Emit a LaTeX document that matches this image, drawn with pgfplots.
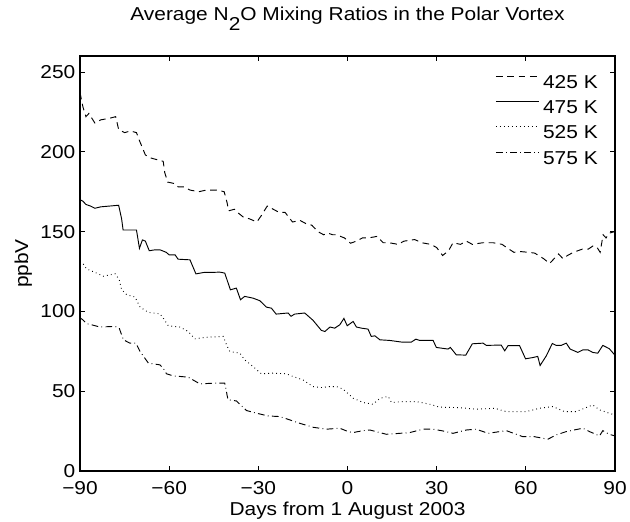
\documentclass[border=0pt]{standalone}
\usepackage{fontspec}
\setmainfont{Liberation Sans}[FakeStretch=1.12]
\usepackage{pgfplots}
\pgfplotsset{compat=1.18}
\begin{document}
\begin{tikzpicture}[font=\fontsize{14}{16}\selectfont]
\useasboundingbox (-60pt,-37.5pt) rectangle (412.5pt,353.25pt);
\begin{axis}[
  scale only axis,
  width=401.25pt, height=311.25pt,
  xmin=-90, xmax=90, ymin=0, ymax=260,
  xtick={-90,-60,-30,0,30,60,90},
  xticklabels={−90,−60,−30,0,30,60,90},
  xticklabel style={yshift=-4pt},
  ytick={0,50,100,150,200,250},
  /pgf/number format/assume math mode=true,
  tick align=inside,
  major tick length=4pt,
  axis line style={line width=0.9pt},
  every tick/.style={line width=0.6pt, black},
  title={Average N\raisebox{-8pt}{2}O Mixing Ratios in the Polar Vortex},
  title style={at={(axis description cs:0.5,1)}, anchor=base, yshift=20.8pt, inner sep=0pt},
  xlabel={Days from 1 August 2003},
  xlabel style={at={(axis description cs:0.5,0)}, anchor=base, yshift=-33pt, inner sep=0pt},
  ylabel={ppbV},
  ylabel style={at={(axis description cs:-0.097,0.5)}, anchor=base, inner sep=0pt},
  legend image code/.code={\draw[#1] (0pt,5pt) -- (32pt,5pt);},
  legend style={at={(axis description cs:1,1)}, anchor=north east, xshift=-9.75pt, yshift=-13pt,
    draw=none, fill=none, inner sep=0pt, row sep=5pt,
    nodes={inner xsep=3pt, inner ysep=0pt, text height=11pt, text depth=3pt}},
  legend cell align=left,
]
\addplot[black, line width=0.7pt, dash pattern=on 5pt off 3.5pt] coordinates {
(-90,237) (-89,228) (-88,222) (-87,224) (-85,218) (-83,220) (-80,221) (-78,222) (-77,214)
(-75,212) (-73,213) (-71,212) (-70,207) (-68,198) (-66,196) (-64,195) (-62,194) (-61.5,187)
(-60.5,181) (-58,180) (-57,178) (-55,178) (-53,176) (-50,175) (-47.5,176) (-44,176) (-41.5,175)
(-40.5,168) (-40,163) (-38,164) (-37,162) (-35,159) (-33,158) (-30.5,156) (-29,160) (-27,166)
(-25,164) (-23,162) (-21,162) (-18.5,156) (-16,157) (-14,155) (-12,154) (-10,150) (-8,148)
(-6.5,149) (-5,148) (-3.7,148) (-1,146) (1,142.7) (3,144) (5,146) (7,146) (10,147) (12,143)
(14,143) (17,142) (19,144) (22.6,145) (25,143) (28,142) (30,140) (32,135) (34,138) (35.5,143)
(38,142) (40,144) (42,142) (45.5,143) (49,143) (52,142) (53.5,140) (56,137) (58,137.5) (61,137)
(63,136.5) (66,133) (68,130) (70,134) (71,136) (72.5,133) (74,135) (76,137) (79,139) (81,139)
(82.6,141) (84,140) (85,137) (86,148) (87,146) (88,149) (90,150)
};
\addlegendentry{425 K}
\addplot[black, line width=0.7pt] coordinates {
(-90,170) (-89,169) (-88,167) (-86.5,166) (-85,164.6) (-83,165.5) (-80,166) (-77,166.5) (-76,158)
(-75.5,151) (-73,151) (-71,151) (-70,139.5) (-69,144.8) (-68,144) (-66.7,138) (-65,138.5) (-63,138.5)
(-61,137) (-60,135.4) (-58,135.4) (-57,132.7) (-55,132.5) (-53,132.3) (-51,123.5) (-48,124.5)
(-45.8,124.4) (-43,124.6) (-41.3,124) (-39.4,113.5) (-37.4,114.6) (-36,107.3) (-34.6,109.4)
(-31.8,108.3) (-29.5,106.7) (-27.3,102.7) (-25.6,102) (-24,98.3) (-20,99) (-19,96.9) (-17.8,98.3)
(-14.4,99) (-11.6,94.4) (-8.8,88.1) (-7.6,87.4) (-5.9,90.2) (-4.3,89.5) (-2.6,91.6) (-1.2,95.6)
(-0.1,91) (1.9,93.7) (3,90.2) (4.7,89.5) (6.9,88.9) (8,84.3) (9.2,84.7) (10.9,82.2) (14.2,81.8)
(18.1,80.8) (21.5,80.8) (23,82.6) (24.3,81.8) (28.8,81.8) (29.9,77.4) (33.8,76.4) (34.6,77.4)
(36.6,72.8) (39.8,72.6) (42,79.7) (45.6,80.1) (46.7,78.7) (51.7,78.9) (52.9,75.3) (54,78.5)
(57.9,78.5) (59.9,70.3) (62.4,71.1) (64,71.8) (64.8,66.1) (66.9,72.2) (68.9,79.9) (70.2,78.7)
(71.9,78.7) (73.6,80.1) (74.9,76.4) (77.5,74.3) (79.2,75.9) (80.9,75.9) (82.5,74.3) (84.2,73.8)
(85.9,78.7) (88.1,76.6) (90,72.5)
};
\addlegendentry{475 K}
\addplot[black, line width=0.7pt, dash pattern=on 0.6pt off 2.4pt] coordinates {
(-90,131) (-89.1,130.3) (-87.8,126.6) (-84.4,124) (-82.2,122) (-78.2,123.6) (-76.8,119.9)
(-76,113.6) (-74.3,110.5) (-71.5,109) (-69.8,102.7) (-67,99.4) (-63.1,98.5) (-62,95.8)
(-60.3,91) (-56.4,90.2) (-53.6,87.4) (-51.4,82.8) (-46.9,83.9) (-41.8,84.3) (-40.7,79.1)
(-39.6,74.9) (-36.2,73.8) (-34.6,69.7) (-31.8,65.5) (-29,60.9) (-25,61.3) (-20.6,60.9)
(-18.3,59.2) (-15,57.1) (-11.6,52.9) (-8.8,52.3) (-6,52.9) (-3.7,52.9) (-1.5,51.3) (1.9,45.6)
(5.3,42.9) (8.6,41.8) (10.9,45.6) (13.7,46.7) (14.8,42.9) (18.7,43.5) (23.2,43.5) (27.7,41.8)
(31,40) (37.7,39.7) (43.3,38.7) (49.5,39.3) (53.4,37.2) (60.1,37.2) (64.6,39.3) (69.1,40.4)
(73,37.2) (76.9,37.2) (82.5,41.4) (84.8,38.3) (88.1,36.2) (90,35)
};
\addlegendentry{525 K}
\addplot[black, line width=0.7pt, dash pattern=on 5pt off 2.5pt on 0.6pt off 2.5pt] coordinates {
(-90,96) (-89.1,94.8) (-87.8,92.3) (-86.1,91.6) (-83.3,90.2) (-78.2,90.6) (-76.8,89.5)
(-75.4,82.2) (-73.2,80.1) (-71.2,80.1) (-69.8,74.9) (-67,67.6) (-63.1,66.5) (-62,64.4)
(-60.9,60.9) (-58.6,59.6) (-53.6,58.8) (-49.7,54.6) (-45.2,55) (-41.3,55) (-40.2,44.6)
(-37.4,43.9) (-34,37.9) (-30.6,36.2) (-26.7,34.5) (-22.8,34.1) (-19.4,32) (-16.1,29.9)
(-11.6,27.4) (-7.1,26.2) (-2.6,26.8) (0.2,24.7) (1.9,24.1) (5.3,25.3) (7.5,25.7) (13.1,23)
(17.6,23.6) (21,24.1) (25.4,26.2) (28.8,26.2) (32.1,25.1) (35.5,23.6) (40,25.7) (43.3,26.2)
(47.3,23.6) (53.4,25.3) (59,21.5) (62.9,21.5) (67.4,19.9) (70.2,22.6) (73.6,24.7) (79.2,26.8)
(81.4,24.7) (84.8,22) (85.9,25.3) (88,23) (90,22)
};
\addlegendentry{575 K}
\end{axis}
\end{tikzpicture}
\end{document}
